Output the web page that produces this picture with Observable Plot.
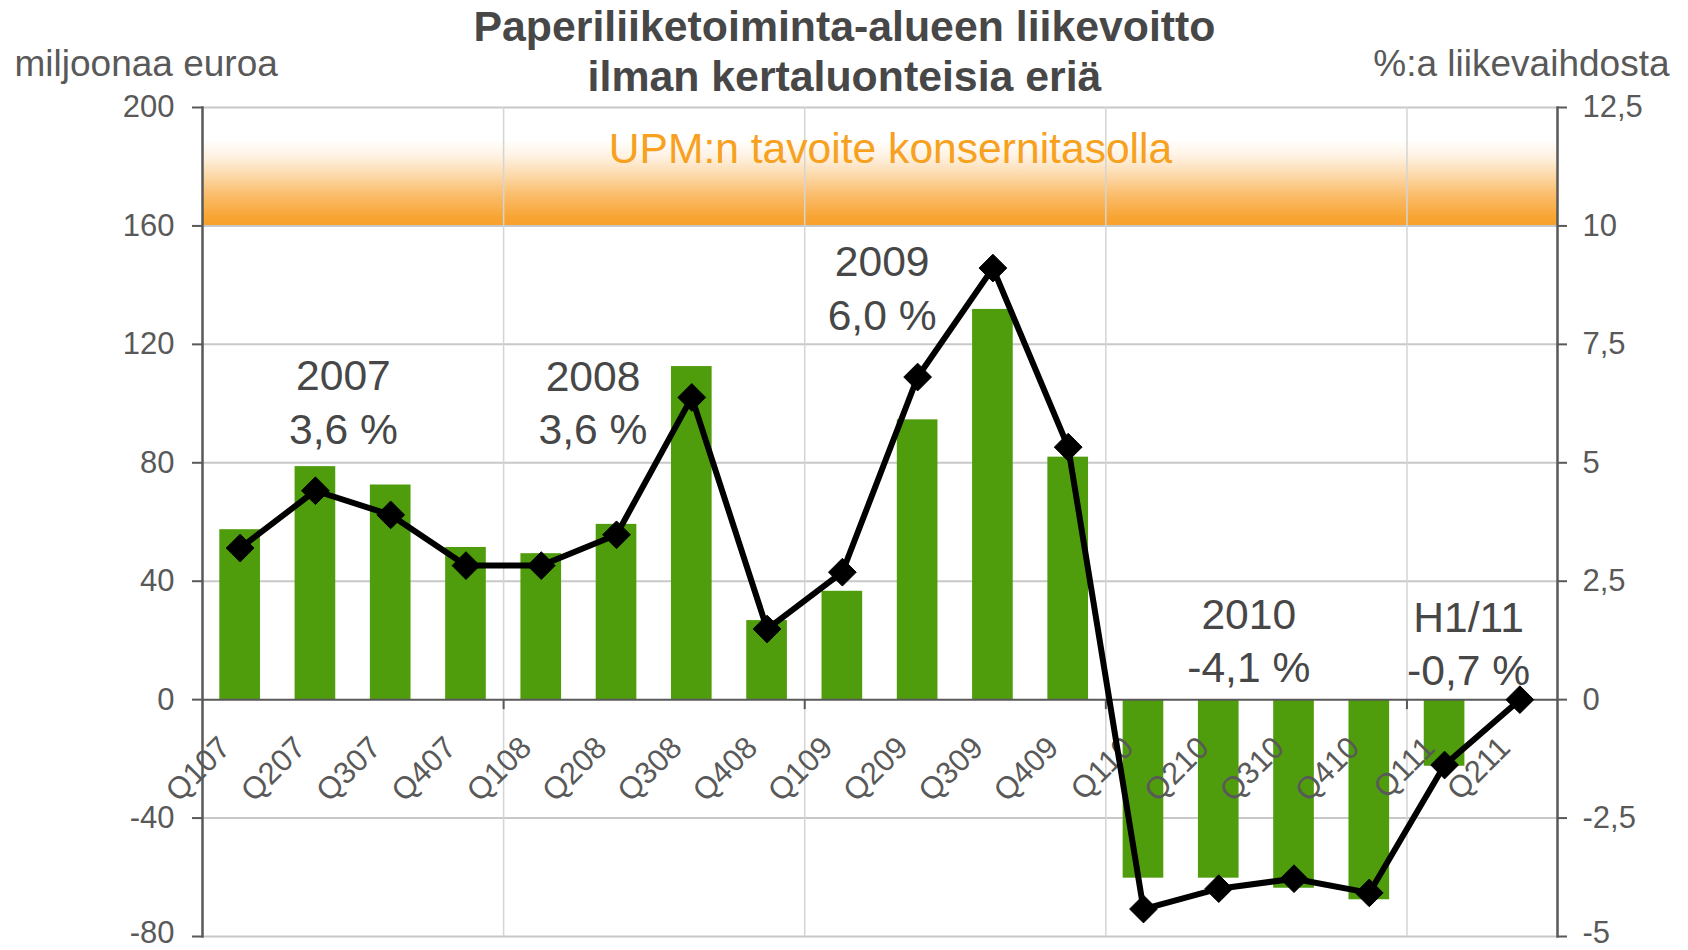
<!DOCTYPE html>
<html>
<head>
<meta charset="utf-8">
<script src="https://cdn.jsdelivr.net/npm/d3@7"></script>
<script src="https://cdn.jsdelivr.net/npm/@observablehq/plot@0.6"></script>
<style>
  html, body { margin: 0; padding: 0; background: #ffffff; }
  #chart svg { display: block; }
</style>
</head>
<body>
<div id="chart"></div>
<script>
// ---------- data ----------
const quarters = ["Q107","Q207","Q307","Q407","Q108","Q208","Q308","Q408","Q109","Q209","Q309","Q409","Q110","Q210","Q310","Q410","Q111","Q211"];
// operating profit excluding special items, EUR million
const profit = [57.4, 78.7, 72.5, 51.4, 49.3, 59.2, 112.5, 26.7, 36.6, 94.5, 131.8, 81.9, -60.3, -60.3, -63.7, -67.6, -22.5, null];
// operating margin, % of sales
const marginPct = [3.2, 4.41, 3.9, 2.83, 2.83, 3.48, 6.38, 1.49, 2.69, 6.81, 9.11, 5.33, -4.42, -3.99, -3.78, -4.08, -1.38, 0.0];

const eurTicks = [-80, -40, 0, 40, 80, 120, 160, 200];
const pctTicks = [-5, -2.5, 0, 2.5, 5, 7.5, 10, 12.5];
const yearStarts = ["Q108", "Q109", "Q110", "Q111"];

const targetPct = 10;          // UPM group target level (% of sales)
const targetFadeTop = 189;     // where the target band fades out (EUR million scale)

const annotationLabels  = ["2007\n3,6 %", "2008\n3,6 %", "2009\n6,0 %", "2010\n-4,1 %", "H1/11\n-0,7 %"];
const annotationAnchors = ["Q207", "Q208", "Q209", "Q210", "Q111"];
const annotationLevels  = [86.4, 86.2, 124.9, 5.9, 4.8];

const titleText   = "Paperiliiketoiminta-alueen liikevoitto\nilman kertaluonteisia eriä";
const leftTitle   = "miljoonaa euroa";
const rightTitle  = "%:a liikevaihdosta";
const targetLabel = "UPM:n tavoite konsernitasolla";

// ---------- derived tables ----------
const pctToEur = 200 / 12.5; // secondary axis ratio (12,5 % ↔ 200 M€)
const rows = quarters.map((q, i) => ({q, profit: profit[i], pct: marginPct[i]}));
const annotations = annotationLabels.map((t, i) => ({text: t, q: annotationAnchors[i], y: annotationLevels[i]}));
const annotationDx = [28, -23.5, -35.5, 30, 24]; // label offsets from the anchor band centre (px)

// ---------- layout ----------
const W = 1688, H = 950;
const ML = 202, MR = 131, MT = 107, MB = 14;
const step = (W - ML - MR) / quarters.length;
const FONT = "'Liberation Sans', Arial, Helvetica, sans-serif";
const axisGray = "#595959";
const textGray = "#474747";
const orange = "#F7A11E";
const green = "#4F9D0C";

const fmtComma = v => String(v).replace(".", ",");
const yMin = eurTicks[0];

const gradientDefs = () => {
  const ns = "http://www.w3.org/2000/svg";
  const defs = document.createElementNS(ns, "defs");
  const lg = document.createElementNS(ns, "linearGradient");
  lg.setAttribute("id", "targetGrad");
  lg.setAttribute("x1", "0"); lg.setAttribute("y1", "1");
  lg.setAttribute("x2", "0"); lg.setAttribute("y2", "0");
  [[0, 1], [0.1, 0.95], [0.35, 0.7], [0.6, 0.38], [0.8, 0.14], [1, 0]].forEach(([o, a]) => {
    const s = document.createElementNS(ns, "stop");
    s.setAttribute("offset", o);
    s.setAttribute("stop-color", "#F8A02A");
    s.setAttribute("stop-opacity", a);
    lg.appendChild(s);
  });
  defs.appendChild(lg);
  return defs;
};

const annotationMarks = annotations.map((a, i) =>
  Plot.text([a], {
    x: "q", y: "y", text: "text", dx: annotationDx[i], lineAnchor: "bottom", lineHeight: 1.26,
    fontSize: 42.6, fill: textGray
  })
);

const leftAxisOpts = {anchor: "left", tickSize: 10, tickPadding: 18, tickFormat: d => String(d), fontSize: 31, color: axisGray, strokeWidth: 2, label: null};
const rightAxisOpts = {anchor: "right", tickSize: 9, tickPadding: 16, tickFormat: d => fmtComma(d / pctToEur), fontSize: 31, color: axisGray, strokeWidth: 2, label: null};

const chart = Plot.plot({
  width: W,
  height: H,
  marginLeft: ML,
  marginRight: MR,
  marginTop: MT,
  marginBottom: MB,
  style: {fontFamily: FONT, background: "#ffffff", overflow: "visible"},
  x: {type: "band", domain: quarters, paddingInner: 0.46, paddingOuter: 0.23, align: 0.5, round: false, axis: null},
  y: {domain: [-80, 200], axis: null},
  marks: [
    gradientDefs,
    // target band
    Plot.rect([0], {y1: targetPct * pctToEur, y2: targetFadeTop, fill: "url(#targetGrad)"}),
    // horizontal gridlines
    Plot.ruleY(eurTicks.filter(d => d !== 0), {stroke: "#c8c8c8", strokeWidth: 2}),
    // vertical gridlines at year boundaries
    Plot.ruleX(yearStarts, {x: d => d, dx: -step / 2, stroke: "#d4d4d4", strokeWidth: 1.5}),
    // bars
    Plot.barY(rows.filter(d => d.profit != null), {x: "q", y: "profit", fill: green}),
    // zero axis
    Plot.ruleY([0], {stroke: axisGray, strokeWidth: 2}),
    Plot.ruleX(yearStarts, {x: d => d, y1: 0, y2: 0, insetBottom: -10, dx: -step / 2, stroke: axisGray, strokeWidth: 2}),
    // category labels hanging from the zero line
    Plot.text(quarters, {
      x: d => d, y: 0, text: d => d, rotate: -45, textAnchor: "end", lineAnchor: "bottom",
      dx: -8, dy: 50, fontSize: 31, fill: axisGray
    }),
    // axis lines
    Plot.frame({anchor: "left", stroke: axisGray, strokeWidth: 2.5}),
    Plot.frame({anchor: "right", stroke: axisGray, strokeWidth: 2.5}),
    // left axis (EUR million)
    Plot.axisY({...leftAxisOpts, ticks: eurTicks.filter(d => d !== yMin)}),
    Plot.axisY({...leftAxisOpts, ticks: [yMin], text: null}),
    Plot.axisY({...leftAxisOpts, ticks: [yMin], tickSize: 0, tickPadding: 28, dy: -3}),
    // right axis (% of sales)
    Plot.axisY({...rightAxisOpts, ticks: pctTicks.filter(p => p !== pctTicks[0]).map(p => p * pctToEur)}),
    Plot.axisY({...rightAxisOpts, ticks: [pctTicks[0] * pctToEur], text: null}),
    Plot.axisY({...rightAxisOpts, ticks: [pctTicks[0] * pctToEur], tickSize: 0, tickPadding: 25, dy: -3}),
    // yearly annotations
    ...annotationMarks,
    // margin line
    Plot.line(rows, {x: "q", y: d => d.pct * pctToEur, stroke: "#000000", strokeWidth: 6}),
    Plot.dot(rows, {x: "q", y: d => d.pct * pctToEur, symbol: "diamond2", r: 12.5, fill: "#000000", stroke: "#000000", strokeWidth: 1}),
    // target label
    Plot.text([targetLabel], {frameAnchor: "top", text: d => d, dx: 10.5, dy: 55, lineAnchor: "bottom", fontSize: 42.6, fill: orange}),
    // titles
    Plot.text([titleText], {
      frameAnchor: "top", text: d => d, dx: W / 2 - (ML + W - MR) / 2, dy: -17, lineAnchor: "bottom",
      lineHeight: 1.16, fontSize: 42.8, fontWeight: "bold", fill: "#474747"
    }),
    Plot.text([leftTitle], {frameAnchor: "top-left", text: d => d, textAnchor: "start", dx: -188, dy: -32, lineAnchor: "bottom", fontSize: 37, fill: axisGray}),
    Plot.text([rightTitle], {frameAnchor: "top-right", text: d => d, textAnchor: "end", dx: 112, dy: -32, lineAnchor: "bottom", fontSize: 37, fill: axisGray})
  ]
});

document.getElementById("chart").appendChild(chart);
</script>
</body>
</html>
